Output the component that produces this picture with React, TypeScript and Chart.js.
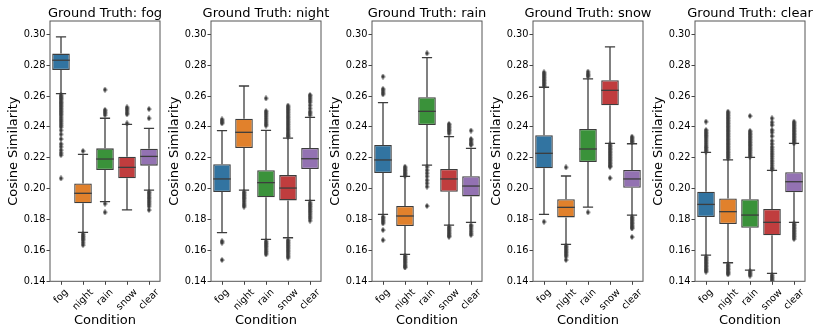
import React, { useEffect, useRef } from 'react';
import { Chart, registerables } from 'chart.js';
Chart.register(...registerables);

const conditions = ['fog', 'night', 'rain', 'snow', 'clear'];
const panelTitles = ['Ground Truth: fog', 'Ground Truth: night', 'Ground Truth: rain', 'Ground Truth: snow', 'Ground Truth: clear'];
const yTicks = [0.14, 0.16, 0.18, 0.2, 0.22, 0.24, 0.26, 0.28, 0.3];
const boxColors = ['#3274a1', '#e1812c', '#3a923a', '#c03d3e', '#9372b2'];
const lineGray = '#3d3d3d';
const yMin = 0.14;
const yMax = 0.3086;

// Ground truth: fog
const fogLo = [0.2616, 0.1717, 0.1916, 0.1862, 0.1991];
const fogQ1 = [0.2769, 0.1905, 0.2121, 0.2067, 0.2149];
const fogMed = [0.2832, 0.197, 0.2192, 0.2138, 0.2209];
const fogQ3 = [0.2875, 0.2034, 0.2261, 0.2207, 0.2259];
const fogHi = [0.2983, 0.2222, 0.2456, 0.2417, 0.2391];
const fogOut = [
  [0.2608, 0.2598, 0.259, 0.2582, 0.2572, 0.2562, 0.2553, 0.2545, 0.2535, 0.2525, 0.2515, 0.2505, 0.2495, 0.2485, 0.2475, 0.2462, 0.245, 0.2438, 0.2425, 0.2412, 0.24, 0.2378, 0.2352, 0.2322, 0.229, 0.2272, 0.225, 0.2232, 0.2218, 0.2067],
  [0.2244, 0.1706, 0.1695, 0.1685, 0.1675, 0.1665, 0.165, 0.1635],
  [0.2641, 0.251, 0.25, 0.249, 0.2477, 0.1903, 0.1847],
  [0.2527, 0.2517, 0.2505, 0.2492, 0.2482, 0.2423],
  [0.2516, 0.2456, 0.198, 0.197, 0.1958, 0.1945, 0.1935, 0.1922, 0.191, 0.1898, 0.1885, 0.1862],
];

// Ground truth: night
const nightLo = [0.1715, 0.1991, 0.1672, 0.1682, 0.1924];
const nightQ1 = [0.1978, 0.2263, 0.1944, 0.1924, 0.2127];
const nightMed = [0.2063, 0.2365, 0.2039, 0.2004, 0.2194];
const nightQ3 = [0.2158, 0.2453, 0.2119, 0.2088, 0.2263];
const nightHi = [0.2376, 0.2665, 0.2378, 0.2328, 0.2462];
const nightOut = [
  [0.2449, 0.244, 0.243, 0.2423, 0.166, 0.165, 0.1538],
  [0.198, 0.197, 0.196, 0.195, 0.194, 0.193, 0.1918, 0.1905, 0.1893, 0.1883],
  [0.2585, 0.2503, 0.2492, 0.248, 0.2468, 0.2455, 0.2442, 0.243, 0.2418, 0.2408, 0.166, 0.165, 0.164, 0.163, 0.162, 0.1608, 0.1596, 0.1585, 0.1574],
  [0.2538, 0.2528, 0.2518, 0.2508, 0.2497, 0.2486, 0.2475, 0.2464, 0.2453, 0.2442, 0.2431, 0.242, 0.2409, 0.2398, 0.2387, 0.2376, 0.2365, 0.2354, 0.2343, 0.2337, 0.1667, 0.1657, 0.1647, 0.1637, 0.1627, 0.1617, 0.1606, 0.1596, 0.1585, 0.1574, 0.1563, 0.1553],
  [0.2607, 0.2597, 0.2585, 0.2572, 0.256, 0.254, 0.252, 0.25, 0.249, 0.2477, 0.1911, 0.19, 0.189, 0.188, 0.1868, 0.1856, 0.1845, 0.1833, 0.182, 0.1808, 0.1793],
];

// Ground truth: rain
const rainLo = [0.1834, 0.1574, 0.2153, 0.1764, 0.1782];
const rainQ1 = [0.2101, 0.1758, 0.2412, 0.198, 0.195];
const rainMed = [0.2186, 0.1823, 0.2501, 0.2063, 0.2017];
const rainQ3 = [0.2283, 0.1888, 0.2592, 0.2127, 0.208];
const rainHi = [0.2557, 0.208, 0.2849, 0.2337, 0.2261];
const rainOut = [
  [0.2726, 0.2646, 0.2635, 0.2622, 0.2611, 0.1818, 0.1808, 0.1796, 0.1786, 0.1775, 0.1732, 0.1667],
  [0.2142, 0.2132, 0.2122, 0.2112, 0.2102, 0.2092, 0.2084, 0.1566, 0.1556, 0.1546, 0.1536, 0.1526, 0.1516, 0.1505, 0.1495, 0.149],
  [0.2877, 0.2142, 0.212, 0.21, 0.208, 0.2055, 0.2035, 0.2013, 0.1888],
  [0.2419, 0.241, 0.24, 0.239, 0.238, 0.237, 0.2358, 0.1754, 0.1744, 0.1734, 0.1724, 0.1714, 0.1704, 0.1695, 0.1689],
  [0.2376, 0.2322, 0.2312, 0.23, 0.229, 0.2283, 0.1764, 0.1754, 0.174, 0.1725, 0.1712, 0.17],
];

// Ground truth: snow
const snowLo = [0.1834, 0.1639, 0.1881, 0.2294, 0.1829];
const snowQ1 = [0.2132, 0.1814, 0.2173, 0.254, 0.2006];
const snowMed = [0.2229, 0.1879, 0.2257, 0.2637, 0.2063];
const snowQ3 = [0.2346, 0.1931, 0.2387, 0.2702, 0.2121];
const snowHi = [0.2657, 0.2082, 0.2711, 0.2918, 0.2291];
const snowOut = [
  [0.2754, 0.2745, 0.2735, 0.2725, 0.2715, 0.2705, 0.2695, 0.2685, 0.2675, 0.2665, 0.1786],
  [0.2138, 0.1631, 0.1621, 0.1611, 0.1601, 0.1591, 0.1581, 0.1571, 0.156, 0.1538],
  [0.2758, 0.2745, 0.2735, 0.2726, 0.1847],
  [0.2287, 0.2277, 0.2267, 0.2257, 0.2247, 0.2237, 0.2227, 0.2217, 0.2207, 0.2197, 0.2187, 0.2177, 0.2167, 0.2157, 0.2147, 0.2142, 0.2069],
  [0.2337, 0.2327, 0.2317, 0.2307, 0.23, 0.1818, 0.1808, 0.1798, 0.1788, 0.1778, 0.1768, 0.1758, 0.1748, 0.1743, 0.1687],
];

// Ground truth: clear
const clearLo = [0.157, 0.152, 0.1473, 0.1451, 0.1782];
const clearQ1 = [0.1816, 0.1771, 0.1747, 0.1698, 0.1976];
const clearMed = [0.1898, 0.1851, 0.1829, 0.1782, 0.2045];
const clearQ3 = [0.198, 0.1937, 0.1931, 0.1868, 0.2106];
const clearHi = [0.2235, 0.2186, 0.2203, 0.2119, 0.2294];
const clearOut = [
  [0.2434, 0.238, 0.237, 0.236, 0.235, 0.234, 0.233, 0.2318, 0.2306, 0.2294, 0.2282, 0.227, 0.2261, 0.225, 0.224, 0.1559, 0.1549, 0.1539, 0.1529, 0.1519, 0.1509, 0.1499, 0.1489, 0.1479, 0.147, 0.1462],
  [0.2499, 0.2489, 0.2478, 0.2468, 0.2458, 0.2447, 0.2437, 0.2426, 0.2416, 0.2405, 0.2395, 0.2384, 0.2374, 0.2363, 0.2353, 0.2342, 0.2332, 0.2321, 0.2311, 0.23, 0.229, 0.2279, 0.2269, 0.2258, 0.2248, 0.2237, 0.2227, 0.2217, 0.2206, 0.2196, 0.151, 0.15, 0.149, 0.148, 0.147, 0.146, 0.1452, 0.1445],
  [0.2471, 0.2374, 0.2364, 0.2354, 0.2344, 0.2334, 0.2324, 0.2314, 0.2303, 0.2293, 0.2283, 0.2273, 0.2262, 0.2252, 0.2241, 0.223, 0.2218, 0.2207, 0.1466, 0.1456, 0.1446, 0.1436],
  [0.2456, 0.243, 0.2412, 0.238, 0.2365, 0.234, 0.231, 0.229, 0.227, 0.2255, 0.224, 0.2225, 0.221, 0.2195, 0.218, 0.2165, 0.215, 0.2135, 0.2125, 0.144, 0.143, 0.142, 0.141, 0.14],
  [0.2434, 0.2424, 0.2414, 0.2404, 0.2394, 0.2384, 0.2374, 0.2364, 0.2354, 0.2344, 0.2334, 0.2324, 0.2314, 0.2304, 0.2294, 0.1775, 0.1765, 0.1755, 0.1745, 0.1735, 0.1725, 0.1715, 0.1705, 0.1695, 0.1685, 0.1674],
];

const panelLo = [fogLo, nightLo, rainLo, snowLo, clearLo];
const panelQ1 = [fogQ1, nightQ1, rainQ1, snowQ1, clearQ1];
const panelMed = [fogMed, nightMed, rainMed, snowMed, clearMed];
const panelQ3 = [fogQ3, nightQ3, rainQ3, snowQ3, clearQ3];
const panelHi = [fogHi, nightHi, rainHi, snowHi, clearHi];
const panelOut = [fogOut, nightOut, rainOut, snowOut, clearOut];

// layout (plot-area left edges)
const plotLefts = [49.6, 210.6, 371.6, 532.6, 694.6];
const plotWidth = 110.8;
const yAxisWidth = 50;
const canvasW = yAxisWidth * 2 + plotWidth;
const canvasH = 335;
const plotTop = 21;
const plotBottom = 281.3;
const FONT = '"DejaVu Sans", sans-serif';
const titleSize = 13;

const boxExtras = {
  id: 'boxExtras',
  beforeDatasetsDraw(chart: any, _a: any, opts: any) {
    const { ctx } = chart;
    const xs = chart.scales.x, ys = chart.scales.y;
    const meta = chart.getDatasetMeta(0);
    ctx.save();
    ctx.strokeStyle = lineGray;
    ctx.lineWidth = 1.3;
    opts.lo.forEach((lo: number, i: number) => {
      const x = xs.getPixelForValue(i);
      const bw = meta.data[i].width;
      const cap = bw * 0.29;
      const yLo = ys.getPixelForValue(lo);
      const yHi = ys.getPixelForValue(opts.hi[i]);
      const yQ1 = ys.getPixelForValue(opts.q1[i]);
      const yQ3 = ys.getPixelForValue(opts.q3[i]);
      ctx.beginPath();
      ctx.moveTo(x, yQ1); ctx.lineTo(x, yLo);
      ctx.moveTo(x, yQ3); ctx.lineTo(x, yHi);
      ctx.moveTo(x - cap, yLo); ctx.lineTo(x + cap, yLo);
      ctx.moveTo(x - cap, yHi); ctx.lineTo(x + cap, yHi);
      ctx.stroke();
    });
    ctx.restore();
  },
  afterDatasetsDraw(chart: any, _a: any, opts: any) {
    const { ctx, chartArea } = chart;
    const xs = chart.scales.x, ys = chart.scales.y;
    const meta = chart.getDatasetMeta(0);
    ctx.save();
    ctx.strokeStyle = lineGray;
    ctx.lineWidth = 1.3;
    opts.med.forEach((m: number, i: number) => {
      const x = xs.getPixelForValue(i);
      const bw = meta.data[i].width;
      const y = ys.getPixelForValue(m);
      ctx.beginPath();
      ctx.moveTo(x - bw / 2, y); ctx.lineTo(x + bw / 2, y);
      ctx.stroke();
    });
    ctx.strokeStyle = '#555';
    ctx.lineWidth = 1;
    ctx.strokeRect(chartArea.left, chartArea.top, chartArea.right - chartArea.left, chartArea.bottom - chartArea.top);
    // panel title centred over the plot area
    ctx.font = `${titleSize}px ${FONT}`;
    ctx.fillStyle = '#000';
    ctx.textAlign = 'center';
    ctx.textBaseline = 'alphabetic';
    ctx.fillText(opts.title, (chartArea.left + chartArea.right) / 2, chartArea.top - 3.8);
    // rotated category labels, centred under each tick (matplotlib style)
    ctx.font = `9.8px ${FONT}`;
    ctx.textBaseline = 'middle';
    const h = 9.8 * 1.17;
    const top = chartArea.bottom + 5.5;
    xs.ticks.forEach((_t: any, i: number) => {
      const label = String(chart.data.labels[i]);
      const x = xs.getPixelForTick(i);
      const w = ctx.measureText(label).width;
      const yc = top + ((w + h) * Math.SQRT1_2) / 2;
      ctx.save();
      ctx.translate(x, yc);
      ctx.rotate(-Math.PI / 4);
      ctx.fillText(label, 0, 0);
      ctx.restore();
    });
    ctx.restore();
  },
};

function makeDiamond(): HTMLCanvasElement {
  const c = document.createElement('canvas');
  c.width = 5; c.height = 6;
  const g = c.getContext('2d')!;
  g.fillStyle = lineGray;
  g.beginPath();
  g.moveTo(2.5, 0); g.lineTo(4.6, 3); g.lineTo(2.5, 6); g.lineTo(0.4, 3); g.closePath();
  g.fill();
  return c;
}

function Panel({ idx }: { idx: number }) {
  const ref = useRef<HTMLCanvasElement>(null);
  useEffect(() => {
    const canvas = ref.current!;
    const diamond = makeDiamond();
    const q1 = panelQ1[idx], q3 = panelQ3[idx];
    const points: { x: string; y: number }[] = [];
    panelOut[idx].forEach((arr, ci) => arr.forEach((v) => points.push({ x: conditions[ci], y: v })));
    const chart = new Chart(canvas, {
      type: 'bar',
      data: {
        labels: conditions,
        datasets: [
          {
            type: 'bar',
            data: q1.map((v, i) => [v, q3[i]]) as any,
            backgroundColor: boxColors,
            borderColor: lineGray,
            borderWidth: 1.3,
            borderSkipped: false,
            barPercentage: 0.8,
            categoryPercentage: 1,
            order: 1,
          },
          {
            type: 'scatter',
            data: points as any,
            pointStyle: diamond as any,
            pointRadius: 3,
            backgroundColor: lineGray,
            borderWidth: 0,
            order: 0,
          } as any,
        ],
      },
      options: {
        responsive: false,
        animation: false,
        events: [],
        layout: { padding: { left: 0, right: canvasW - yAxisWidth - plotWidth, top: plotTop, bottom: 0 } },
        plugins: {
          legend: { display: false },
          tooltip: { enabled: false },
          title: { display: false },
          boxExtras: {
            lo: panelLo[idx], hi: panelHi[idx], q1, q3, med: panelMed[idx], title: panelTitles[idx],
          },
        } as any,
        scales: {
          x: {
            type: 'category',
            offset: true,
            afterFit: (s: any) => { s.height = canvasH - plotBottom; },
            ticks: { display: false },
            grid: { display: true, offset: false, drawOnChartArea: false, drawTicks: true, tickLength: 3.5, tickColor: '#444', lineWidth: 1 },
            border: { display: false },
            title: {
              display: true,
              text: 'Condition',
              color: '#000',
              font: { family: FONT, size: 13 },
              padding: { top: 0, bottom: 7 },
            },
          },
          y: {
            type: 'linear',
            min: yMin,
            max: yMax,
            afterFit: (s: any) => { s.width = yAxisWidth; },
            afterBuildTicks: (s: any) => { s.ticks = yTicks.map((v) => ({ value: v })); },
            ticks: {
              color: '#000',
              font: { family: FONT, size: 9.8 },
              padding: 1,
              callback: (v: any) => Number(v).toFixed(2),
            },
            grid: { display: true, drawOnChartArea: false, drawTicks: true, tickLength: 3.5, tickColor: '#444', lineWidth: 1 },
            border: { display: false },
            title: {
              display: true,
              text: 'Cosine Similarity',
              color: '#000',
              font: { family: FONT, size: 13 },
              padding: { top: 6, bottom: 0 },
            },
          },
        },
      },
      plugins: [boxExtras],
    });
    return () => chart.destroy();
  }, [idx]);
  return (
    <canvas
      ref={ref}
      width={canvasW}
      height={canvasH}
      style={{ position: 'absolute', left: plotLefts[idx] - yAxisWidth, top: 0, width: canvasW, height: canvasH }}
    />
  );
}

export default function App() {
  return (
    <div style={{ position: 'fixed', left: 0, top: 0, width: 814, height: 335, background: '#fff', overflow: 'hidden' }}>
      {conditions.map((_, i) => (
        <Panel key={i} idx={i} />
      ))}
    </div>
  );
}
